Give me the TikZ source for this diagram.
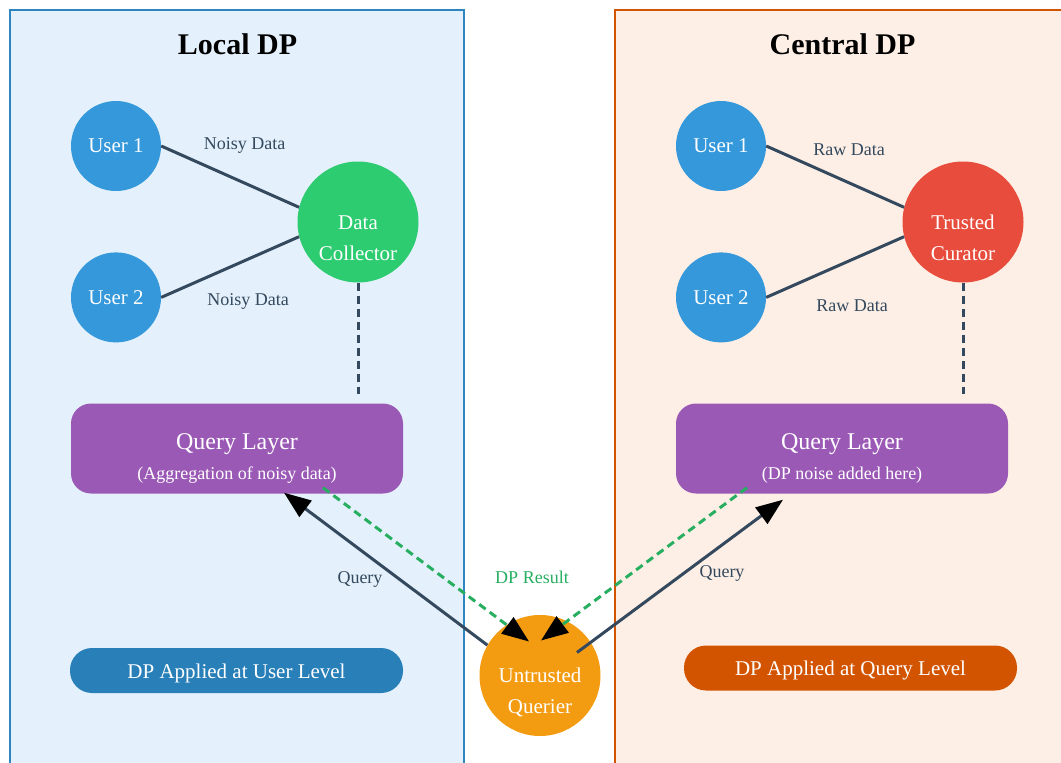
\documentclass[tikz,border=0pt]{standalone}
\usepackage{fontspec}
\setmainfont{Liberation Serif}
\usetikzlibrary{arrows.meta, positioning, calc}
\definecolor{ink}{HTML}{34495E}
\definecolor{leftedge}{HTML}{2E86C1}
\definecolor{leftfill}{HTML}{E4F1FC}
\definecolor{rightedge}{HTML}{D35400}
\definecolor{rightfill}{HTML}{FDEFE5}
\definecolor{userblue}{HTML}{3498DB}
\definecolor{collectorgreen}{HTML}{2ECC71}
\definecolor{curatorred}{HTML}{E74C3C}
\definecolor{layerpurple}{HTML}{9B59B6}
\definecolor{querierorange}{HTML}{F39C12}
\definecolor{userlevel}{HTML}{2980B9}
\definecolor{querylevel}{HTML}{D35400}
\definecolor{resultgreen}{HTML}{27AE60}

\begin{document}
\begin{tikzpicture}[x=1pt, y=-1pt,
	panel/.style={line width=2.5pt},
	paneltitle/.style={inner sep=0pt, anchor=base, font=\fontsize{30}{36}\selectfont\bfseries},
	user/.style={circle, fill=userblue, text=white, minimum size=90pt, inner sep=0pt, font=\fontsize{21}{25}\selectfont},
	hub/.style={circle, text=white, minimum size=121pt, inner sep=0pt, align=center, text height=80pt, text depth=4pt, font=\fontsize{21}{31}\selectfont},
	qlayer/.style={rectangle, rounded corners=20pt, fill=layerpurple, text=white, minimum width=332pt, minimum height=90pt, inner sep=0pt, align=center, text height=70pt, text depth=9pt, font=\fontsize{24}{30}\selectfont},
	badge/.style={rectangle, rounded corners=22pt, text=white, minimum width=333pt, minimum height=45pt, inner sep=0pt, text height=15pt, text depth=0pt, font=\fontsize{21}{25}\selectfont},
	flow/.style={draw=ink, line width=3pt},
	dashflow/.style={flow, dash pattern=on 8pt off 5pt},
	qtip/.style={-{Triangle[length=27pt, width=20pt, color=black]}},
	tag/.style={text=ink, inner sep=0pt, anchor=base, font=\fontsize{18}{22}\selectfont}]
	\useasboundingbox (0,0) rectangle (1061,763);
	\draw[panel, draw=leftedge, fill=leftfill] (10,10) rectangle (464,790);
	\draw[panel, draw=rightedge, fill=rightfill] (615,10) rectangle (1090,790);
	\node[paneltitle] (ltitle) at (237.5,54) {Local DP};
	\node[paneltitle] (rtitle) at (842.5,54) {Central DP};

	\node[user] (lu1) at (116,146) {User 1};
	\node[user, below=61pt of lu1] (lu2) {User 2};
	\node[hub, fill=collectorgreen] (dc) at (358,222) {Data\\Collector};
	\node[user] (ru1) at (721,146) {User 1};
	\node[user, below=61pt of ru1] (ru2) {User 2};
	\node[hub, fill=curatorred] (tc) at (963,222) {Trusted\\Curator};

	\node[qlayer] (lq) at (237,448.5) {Query Layer\\{\fontsize{18}{22}\selectfont (Aggregation of noisy data)}};
	\node[qlayer] (rq) at (842,448.5) {Query Layer\\{\fontsize{18}{22}\selectfont (DP noise added here)}};
	\node[badge, fill=userlevel] (lb) at (236.5,670.5) {DP Applied at User Level};
	\node[badge, fill=querylevel] (rb) at (850.5,668) {DP Applied at Query Level};
	\node[hub, fill=querierorange] (uq) at (540,675.5) {Untrusted\\Querier};

	\draw[flow] (lu1.east) -- (dc.166);
	\draw[flow] (lu2.east) -- (dc.194);
	\draw[flow] (ru1.east) -- (tc.166);
	\draw[flow] (ru2.east) -- (tc.194);
	\draw[dashflow, shorten >=9pt] (dc.south) -- (dc.south |- lq.north);
	\draw[dashflow, shorten >=9pt] (tc.south) -- (tc.south |- rq.north);

	\coordinate (lqin) at ($(lq.south)+(47,-1)$);
	\coordinate (rqin) at ($(rq.south)+(-59,6)$);
	\coordinate (lqout) at ($(lq.south)+(86,-6)$);
	\coordinate (rqout) at ($(rq.south)+(-95,-6)$);
	\coordinate (uqin1) at ($(uq)+(-11,-34)$);
	\coordinate (uqin2) at ($(uq)+(1,-35)$);
	\coordinate (uqout) at ($(uq)+(37,-23)$);
	\draw[flow, qtip] (uq.150) -- (lqin);
	\draw[flow, qtip] (uqout) -- (rqin);
	\draw[dashflow, draw=resultgreen, qtip] (lqout) -- (uqin1);
	\draw[dashflow, draw=resultgreen, qtip] (rqout) -- (uqin2);

	\node[tag] (lnoisy1) at (244.5,149) {Noisy Data};
	\node[tag] (lnoisy2) at (248,305) {Noisy Data};
	\node[tag] (rraw1) at (849,155) {Raw Data};
	\node[tag] (rraw2) at (852,311) {Raw Data};
	\node[tag] (lquery) at (360,583) {Query};
	\node[tag, text=resultgreen] (result) at (532,583) {DP Result};
	\node[tag] (rquery) at (722,577) {Query};
\end{tikzpicture}
\end{document}
